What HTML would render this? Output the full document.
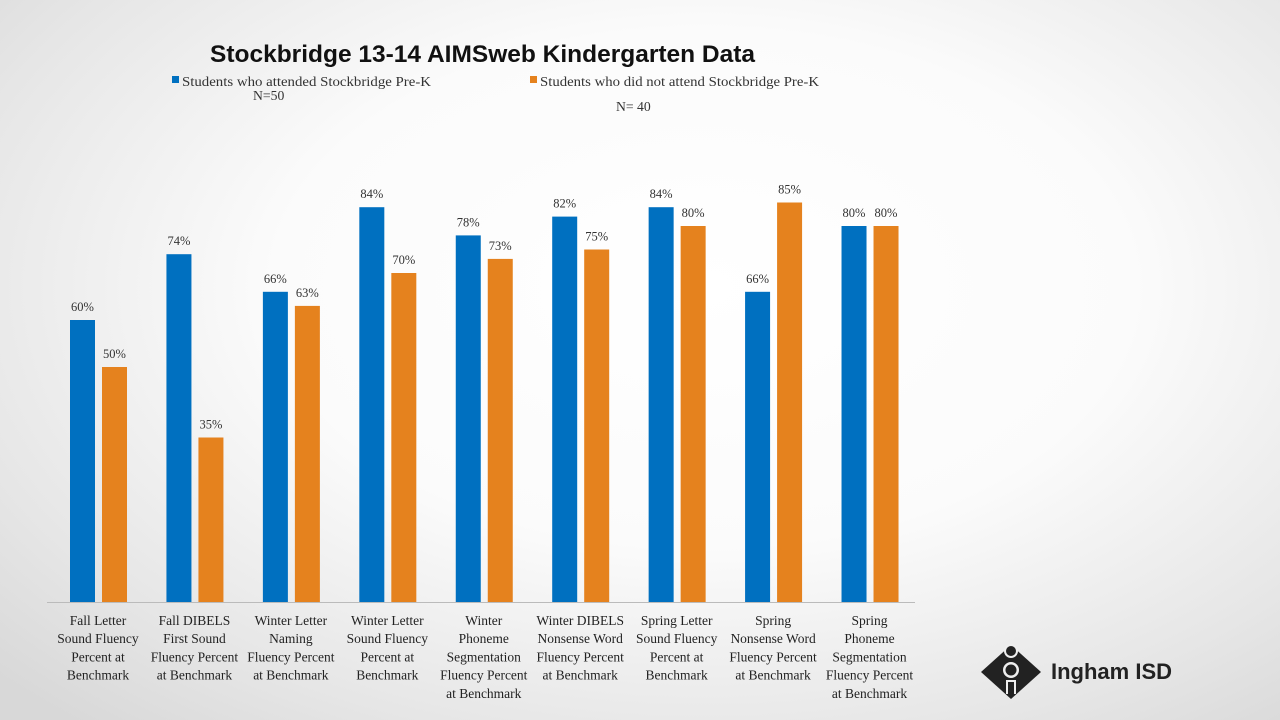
<!DOCTYPE html>
<html><head><meta charset="utf-8"><style>
body{margin:0;width:1280px;height:720px;overflow:hidden;background:radial-gradient(ellipse 75% 80% at 55% 40%,#ffffff 0%,#fbfbfb 45%,#e6e6e6 80%,#d8d8d8 100%);font-family:"Liberation Serif",serif;}
svg{position:absolute;left:0;top:0}
</style></head><body>
<svg width="1280" height="720">
<text x="210" y="62" font-family="Liberation Sans, sans-serif" font-weight="bold" font-size="24.5" fill="#111">Stockbridge 13-14 AIMSweb Kindergarten Data</text>
<g font-size="13.7" fill="#333">
<rect x="172" y="76" width="7" height="7" fill="#0070c0"/>
<text x="182" y="86" textLength="249" lengthAdjust="spacingAndGlyphs">Students who attended Stockbridge Pre-K</text>
<text x="253" y="100">N=50</text>
<rect x="530" y="76" width="7" height="7" fill="#e5821e"/>
<text x="540" y="86" textLength="279" lengthAdjust="spacingAndGlyphs">Students who did not attend Stockbridge Pre-K</text>
<text x="616" y="111">N= 40</text>
</g>
<g id="plot"></g>
<line x1="47" y1="602.5" x2="915" y2="602.5" stroke="#bbb"/>
<g>
<polygon points="1011,645 1041,672 1011,699 981,672" fill="#222"/>
<circle cx="1011" cy="651" r="6" fill="#222" stroke="#eee" stroke-width="2"/>
<circle cx="1011" cy="670" r="8" fill="#eee"/>
<circle cx="1011" cy="670" r="5.5" fill="#222"/>
<rect x="1006" y="680" width="10" height="14" fill="#eee"/>
<rect x="1008" y="682" width="6" height="12" fill="#222"/>
<text x="1051" y="679" font-family="Liberation Sans, sans-serif" font-weight="bold" font-size="22" fill="#222">Ingham ISD</text>
</g>
</svg>
<script>
const categories=[["Fall Letter","Sound Fluency","Percent at","Benchmark"],["Fall DIBELS","First Sound","Fluency Percent","at Benchmark"],["Winter Letter","Naming","Fluency Percent","at Benchmark"],["Winter Letter","Sound Fluency","Percent at","Benchmark"],["Winter","Phoneme","Segmentation","Fluency Percent","at Benchmark"],["Winter DIBELS","Nonsense Word","Fluency Percent","at Benchmark"],["Spring Letter","Sound Fluency","Percent at","Benchmark"],["Spring","Nonsense Word","Fluency Percent","at Benchmark"],["Spring","Phoneme","Segmentation","Fluency Percent","at Benchmark"]];
const attended=[60,74,66,84,78,82,84,66,80];
const notAttended=[50,35,63,70,73,75,80,85,80];
const NS="http://www.w3.org/2000/svg";
const g=document.getElementById('plot');
const x0=47,groupW=96.44,baseY=602,pxPer=4.7;
function yOf(v){return baseY-v*pxPer;}
function xGroup(i){return x0+i*groupW;}
function mk(t,a){const e=document.createElementNS(NS,t);for(const k in a)e.setAttribute(k,a[k]);g.appendChild(e);return e;}
categories.forEach((c,i)=>{
  [[attended,23,'#0070c0','attended'],[notAttended,55,'#e5821e','not-attended']].forEach(([arr,off,col,nm])=>{
    const v=arr[i],x=xGroup(i)+off;
    const r=mk('rect',{x:x,y:yOf(v),width:25,height:v*pxPer,fill:col});
    
    
    const t=mk('text',{x:x+12.5,y:yOf(v)-9,'text-anchor':'middle','font-size':'12.5',fill:'#333'});
    t.textContent=v+'%';
    
    
  });
  const lbl=mk('text',{'text-anchor':'middle','font-size':'13.5',fill:'#222'});
  
  
  c.forEach((line,j)=>{const ts=document.createElementNS(NS,'tspan');ts.setAttribute('x',xGroup(i)+51);ts.setAttribute('y',625+j*18.2);ts.textContent=line;lbl.appendChild(ts);});
});
</script>
</body></html>
